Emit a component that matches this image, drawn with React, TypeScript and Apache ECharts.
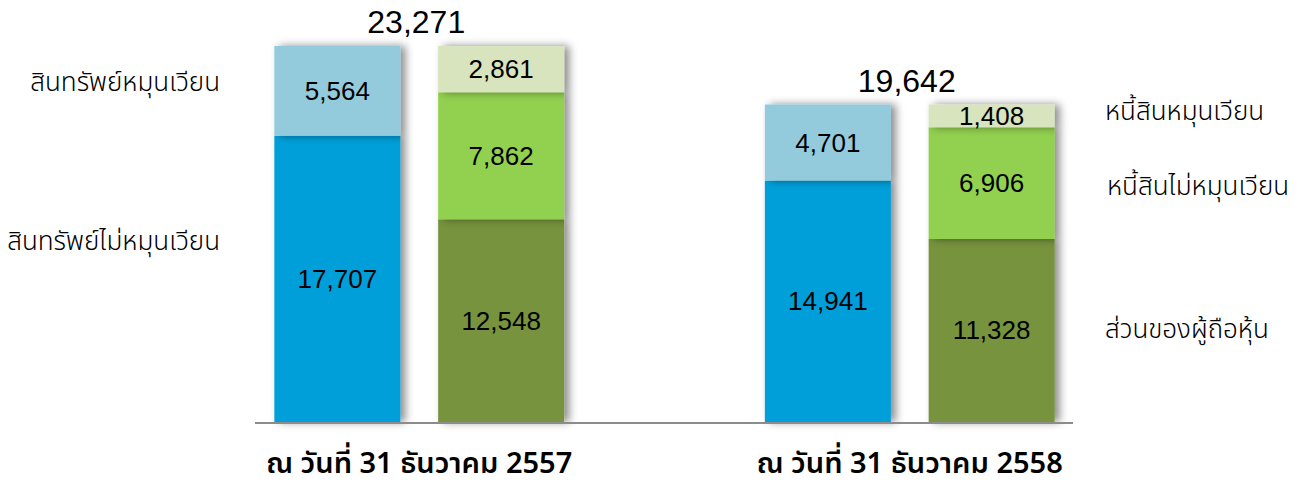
import React, { useEffect, useRef } from "react";
import * as echarts from "echarts";

const categories = ["ณ วันที่ 31 ธันวาคม 2557", "ณ วันที่ 31 ธันวาคม 2558"];
const nonCurrentAssets = [17707, 14941];
const currentAssets = [5564, 4701];
const equity = [12548, 11328];
const nonCurrentLiabilities = [7862, 6906];
const currentLiabilities = [2861, 1408];
const totals = [23271, 19642];

const leftLabels = ["สินทรัพย์หมุนเวียน", "สินทรัพย์ไม่หมุนเวียน"];
const rightLabels = ["หนี้สินหมุนเวียน", "หนี้สินไม่หมุนเวียน", "ส่วนของผู้ถือหุ้น"];

const numFont = "'Liberation Sans', Arial, sans-serif";
const thaiFont = "'Noto Sans Thai', 'Noto Sans', sans-serif";

const fmt = (v: number) => v.toLocaleString("en-US");

export default function App() {
  const ref = useRef<HTMLDivElement>(null);
  useEffect(() => {
    if (!ref.current) return;
    const chart = echarts.init(ref.current, null, { renderer: "svg" });
    const shadow = {
      shadowColor: "rgba(0,0,0,0.45)",
      shadowBlur: 8,
      shadowOffsetX: 5,
      shadowOffsetY: 0,
    };
    const barLabel = {
      show: true,
      position: "inside" as const,
      color: "#000",
      fontSize: 26,
      fontFamily: numFont,
      formatter: (p: any) => fmt(p.value),
    };
    const mk = (name: string, data: number[], stack: string, color: string) => ({
      name,
      type: "bar" as const,
      stack,
      data,
      barWidth: 126,
      barGap: "30%",
      itemStyle: { color, ...shadow },
      label: barLabel,
      emphasis: { disabled: true },
    });
    const sideText = (text: string, x: number, y: number, align: string) => ({
      type: "text",
      x,
      y,
      style: {
        text,
        fill: "#000",
        font: `300 26px ${thaiFont}`,
        textAlign: align,
        textVerticalAlign: "middle",
      },
    });
    chart.setOption({
      animation: false,
      grid: { left: 174, right: 146, top: 18, bottom: 66 },
      xAxis: {
        type: "category",
        data: categories,
        axisLine: { show: false },
        axisTick: { show: false },
        axisLabel: {
          color: "#000",
          fontSize: 29,
          fontWeight: 600,
          fontFamily: thaiFont,
          margin: 27,
        },
      },
      yAxis: {
        type: "value",
        min: 0,
        max: 25000,
        show: false,
        splitLine: { show: false },
      },
      series: [
        mk("สินทรัพย์ไม่หมุนเวียน", nonCurrentAssets, "a", "#009FDA"),
        mk("สินทรัพย์หมุนเวียน", currentAssets, "a", "#93CBDD"),
        mk("ส่วนของผู้ถือหุ้น", equity, "l", "#77933C"),
        mk("หนี้สินไม่หมุนเวียน", nonCurrentLiabilities, "l", "#92D050"),
        mk("หนี้สินหมุนเวียน", currentLiabilities, "l", "#D7E4BD"),
        {
          name: "total",
          type: "scatter",
          data: totals,
          symbolSize: 0,
          silent: true,
          itemStyle: { opacity: 1 },
          label: {
            show: true,
            position: "top",
            distance: 8,
            color: "#000",
            opacity: 1,
            fontSize: 32,
            fontFamily: numFont,
            offset: [-3, 0],
            formatter: (p: any) => fmt(p.value),
          },
        },
      ],
      graphic: [
        {
          type: "line",
          shape: { x1: 255, y1: 423, x2: 1073, y2: 423 },
          style: { stroke: "#8C8C8C", lineWidth: 2 },
          z: 10,
        },
        sideText(leftLabels[0], 220, 83, "right"),
        sideText(leftLabels[1], 220, 242, "right"),
        sideText(rightLabels[0], 1105, 112, "left"),
        sideText(rightLabels[1], 1107, 187, "left"),
        sideText(rightLabels[2], 1105, 330, "left"),
      ],
    });
    return () => chart.dispose();
  }, []);
  return <div ref={ref} style={{ width: 1301, height: 488, position: "absolute", left: 0, top: 0 }} />;
}
